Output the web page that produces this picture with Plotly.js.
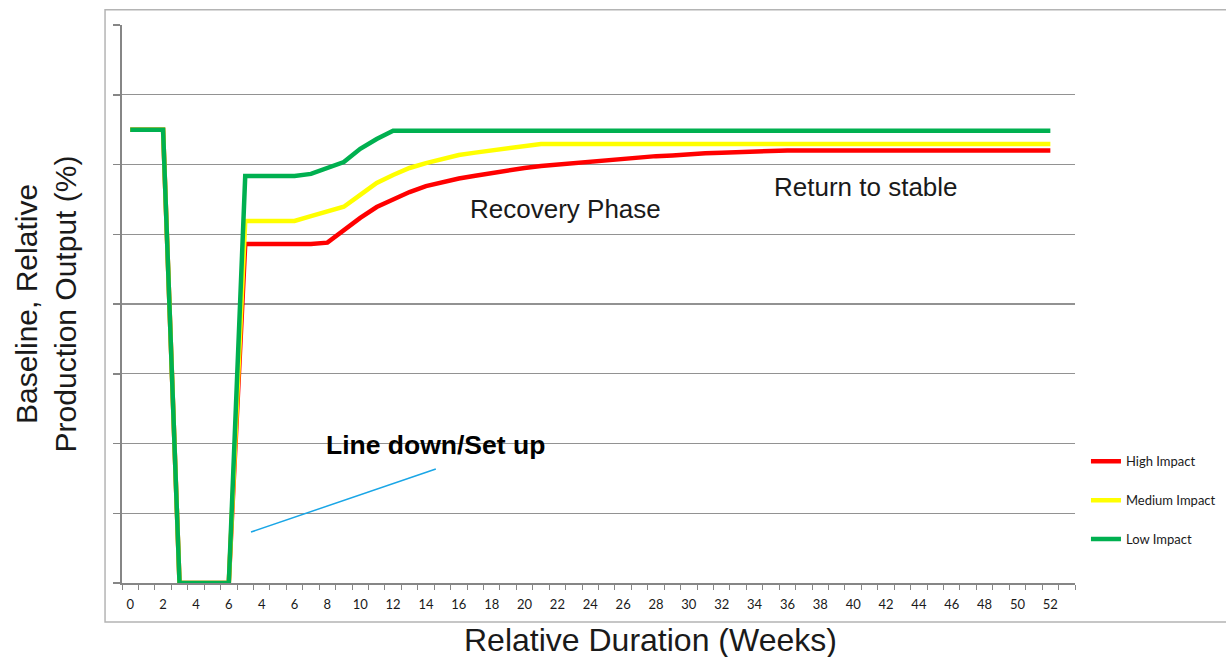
<!DOCTYPE html>
<html>
<head>
<meta charset="utf-8">
<script src="https://cdn.plot.ly/plotly-3.0.1.min.js"></script>
<style>html,body{margin:0;padding:0;background:#fff;}#chart{width:1226px;height:657px;}</style>
</head>
<body>
<div id="chart"></div>
<script>
// Category labels for each position on the x axis (weeks; the axis restarts at 3 after the outage)
const weekLabels = ["0","1","2","3","4","5","6",
  "3","4","5","6","7","8","9","10","11","12","13","14","15","16","17","18","19","20",
  "21","22","23","24","25","26","27","28","29","30","31","32","33","34","35","36","37",
  "38","39","40","41","42","43","44","45","46","47","48","49","50","51","52"];

const highImpact = [130,130,130,0,0,0,0,
  97.2,97.2,97.2,97.2,97.2,97.6,101.2,104.7,107.8,110.1,112.1,113.8,115.0,116.0,116.8,117.6,118.3,119.0,
  119.6,120.0,120.4,120.9,121.3,121.7,122.2,122.4,122.6,123.0,123.2,123.4,123.6,123.9,124.0,124.0,124.0,
  124.0,124.0,124.0,124.0,124.0,124.0,124.0,124.0,124.0,124.0,124.0,124.0,124.0,124.0,124.0];

const mediumImpact = [130,130,130,0,0,0,0,
  103.8,103.8,103.8,103.8,105.2,106.4,107.9,111.3,114.7,117.0,119.0,120.4,121.6,122.7,123.4,124.1,124.7,125.3,
  125.9,125.9,125.9,125.9,125.9,125.9,125.9,125.9,125.9,125.9,125.9,125.9,125.9,125.9,125.9,125.9,125.9,
  125.9,125.9,125.9,125.9,125.9,125.9,125.9,125.9,125.9,125.9,125.9,125.9,125.9,125.9,125.9];

const lowImpact = [130,130,130,0,0,0,0,
  116.7,116.7,116.7,116.7,117.3,119.0,120.7,124.5,127.3,129.7,129.7,129.7,129.7,129.7,129.7,129.7,129.7,129.7,
  129.7,129.7,129.7,129.7,129.7,129.7,129.7,129.7,129.7,129.7,129.7,129.7,129.7,129.7,129.7,129.7,129.7,
  129.7,129.7,129.7,129.7,129.7,129.7,129.7,129.7,129.7,129.7,129.7,129.7,129.7,129.7,129.7];

const seriesNames = ["High Impact","Medium Impact","Low Impact"];
const seriesColors = ["#ff0000","#ffff00","#00b050"];
const seriesValues = [highImpact, mediumImpact, lowImpact];

const xIdx = weekLabels.map((_, i) => i);
const tickIdx = xIdx.filter(i => i % 2 === 0);
const tickText = tickIdx.map(i => weekLabels[i]);

const traces = seriesValues.map((vals, k) => ({
  type: 'scatter', mode: 'lines', x: xIdx, y: vals,
  name: seriesNames[k], legendgroup: 'g' + k,
  line: {color: seriesColors[k], width: 4.5}
}));

const axisGray = '#868686';
const layout = {
  width: 1226, height: 657,
  paper_bgcolor: '#fff', plot_bgcolor: '#fff',
  margin: {l: 122, r: 151, t: 25, b: 74, autoexpand: false},
  font: {family: 'Liberation Sans, Arial, sans-serif', color: '#1a1a1a'},
  showlegend: true,
  legend: {x: 1.0115, xanchor: 'left', y: 0.245, yanchor: 'top', tracegroupgap: 19,
           font: {family: 'Lato, Carlito, sans-serif', size: 13, color: '#1a1a1a'},
           bgcolor: 'rgba(0,0,0,0)', itemwidth: 30},
  xaxis: {
    range: [-0.5, 57.5], tickmode: 'array', tickvals: tickIdx, ticktext: tickText,
    ticks: '', showgrid: false, zeroline: false, automargin: false,
    showline: true, linecolor: axisGray, linewidth: 2,
    tickfont: {family: 'Lato, Carlito, sans-serif', size: 13, color: '#1a1a1a'},
    ticklabelstandoff: 8,
    minor: {ticks: 'outside', tickmode: 'linear', tick0: -0.5, dtick: 1, ticklen: 5, tickcolor: axisGray, tickwidth: 1, showgrid: false}
  },
  yaxis: {
    range: [0, 160], dtick: 20, tick0: 0, showticklabels: false, automargin: false,
    ticks: 'outside', ticklen: 7, tickcolor: axisGray, tickwidth: 1.5,
    showgrid: true, gridcolor: '#929292', gridwidth: 1.2, zeroline: false,
    showline: true, linecolor: axisGray, linewidth: 2,
    title: {text: 'Baseline, Relative<br>Production Output (%)', font: {size: 30, color: '#1a1a1a'}, standoff: 28}
  },
  shapes: [
    {type: 'rect', xref: 'paper', yref: 'paper', x0: -0.0178, x1: 1.17, y0: -0.07, y1: 1.0275,
     line: {color: '#b4b4b4', width: 1.5}, fillcolor: 'rgba(0,0,0,0)', layer: 'below'},
    {type: 'line', xref: 'x', yref: 'y', x0: 7.35, y0: 14.6, x1: 18.6, y1: 32.7,
     line: {color: '#1aa6e6', width: 1.5}}
  ],
  annotations: [
    {x: 0.555, y: -0.102, xref: 'paper', yref: 'paper', text: 'Relative Duration (Weeks)', showarrow: false,
     xanchor: 'center', yanchor: 'middle', font: {size: 32, color: '#1a1a1a'}},
    {x: 26.5, y: 107.2, xref: 'x', yref: 'y', text: 'Recovery Phase', showarrow: false,
     font: {size: 26, color: '#1a1a1a'}},
    {x: 44.8, y: 113.5, xref: 'x', yref: 'y', text: 'Return to stable', showarrow: false,
     font: {size: 26, color: '#1a1a1a'}},
    {x: 18.55, y: 39.6, xref: 'x', yref: 'y', text: '<b>Line down/Set up</b>', showarrow: false,
     font: {size: 26.5, color: '#000'}}
  ]
};

Plotly.newPlot('chart', traces, layout, {displayModeBar: false, staticPlot: true});
</script>
</body>
</html>
